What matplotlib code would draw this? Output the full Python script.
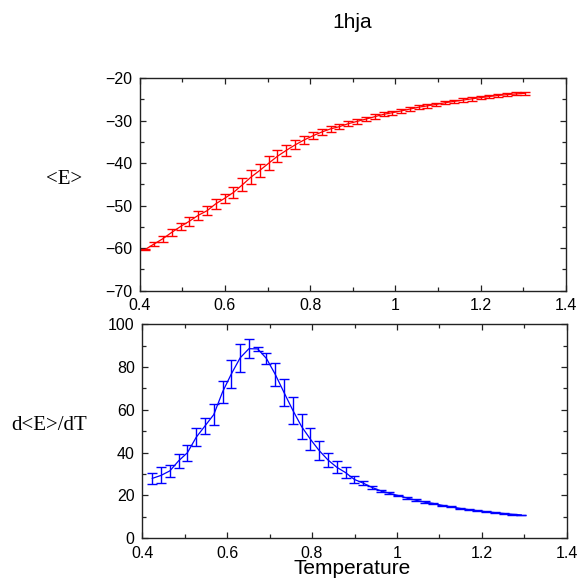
import matplotlib
matplotlib.use("Agg")
import matplotlib.pyplot as plt
from matplotlib.ticker import MultipleLocator, FuncFormatter

# ---- data ----
temps_E = [0.413, 0.434, 0.454, 0.475, 0.496, 0.516, 0.537, 0.558, 0.578, 0.599,
           0.620, 0.641, 0.661, 0.682, 0.703, 0.723, 0.744, 0.765, 0.785, 0.806,
           0.827, 0.848, 0.868, 0.889, 0.910, 0.931, 0.951, 0.972, 0.993, 1.013,
           1.034, 1.055, 1.075, 1.096, 1.117, 1.137, 1.158, 1.179, 1.200, 1.220,
           1.241, 1.262, 1.282, 1.303]
energy = [-60.3, -59.0, -57.8, -56.3, -54.9, -53.7, -52.3, -51.2, -49.6, -48.3,
          -46.9, -45.1, -43.3, -41.7, -40.0, -38.4, -37.0, -35.7, -34.6, -33.6,
          -32.7, -31.95, -31.45, -30.75, -30.2, -29.65, -29.1, -28.55, -28.15, -27.75,
          -27.3, -26.85, -26.55, -26.2, -25.8, -25.5, -25.2, -24.9, -24.6, -24.35,
          -24.1, -23.9, -23.75, -23.6]
energy_err = [0.2, 0.4, 0.7, 0.75, 0.85, 1.0, 1.0, 1.05, 1.15, 1.0,
              1.3, 1.5, 1.57, 1.57, 1.57, 1.4, 1.3, 1.1, 1.0, 0.8,
              0.75, 0.7, 0.65, 0.6, 0.6, 0.55, 0.55, 0.5, 0.5, 0.5,
              0.45, 0.45, 0.45, 0.4, 0.4, 0.4, 0.4, 0.4, 0.35, 0.35,
              0.35, 0.35, 0.35, 0.35]

temps_C = [0.4235, 0.4442, 0.4649, 0.4856, 0.5063, 0.5270, 0.5477, 0.5684, 0.5891, 0.6098,
           0.6305, 0.6512, 0.6719, 0.6926, 0.7133, 0.7340, 0.7547, 0.7754, 0.7961, 0.8168,
           0.8375, 0.8582, 0.8789, 0.8996, 0.9203, 0.9410, 0.9617, 0.9824, 1.0031, 1.0238,
           1.0445, 1.0652, 1.0859, 1.1066, 1.1273, 1.1480, 1.1687, 1.1894, 1.2101, 1.2308,
           1.2515, 1.2722, 1.2929]
heat_cap = [28.0, 29.4, 31.5, 36.2, 40.0, 47.2, 52.5, 57.8, 68.4, 76.8,
            84.3, 88.6, 88.5, 84.0, 76.6, 68.1, 59.8, 52.2, 46.3, 41.0,
            36.6, 33.2, 30.7, 27.5, 25.8, 23.8, 22.2, 21.0, 20.0, 18.8,
            17.8, 16.9, 16.3, 15.4, 14.7, 14.0, 13.4, 12.9, 12.4, 12.0,
            11.6, 11.2, 10.95]
heat_cap_err = [2.6, 3.7, 2.9, 3.3, 3.7, 4.3, 3.7, 4.8, 5.3, 6.6,
                6.4, 4.4, 0.8, 2.5, 5.2, 6.5, 6.4, 5.8, 5.2, 4.3,
                3.4, 2.7, 2.7, 1.5, 1.0, 0.7, 0.55, 0.5, 0.45, 0.4,
                0.35, 0.3, 0.3, 0.28, 0.25, 0.25, 0.22, 0.2, 0.2, 0.2,
                0.18, 0.17, 0.15]

title = "1hja"
xlabel = "Temperature"
ylabel_top = "<E>"
ylabel_bottom = "d<E>/dT"

# ---- figure ----
W, H = 579, 583
fig = plt.figure(figsize=(W / 100, H / 100), dpi=100)

sans = "Liberation Sans"
serif = "Liberation Serif"
spine_color = "#222222"


def style_axes(ax, ylim, ymajor, yminor):
    ax.set_xlim(0.4, 1.4)
    ax.set_ylim(*ylim)
    ax.xaxis.set_major_locator(MultipleLocator(0.2))
    ax.xaxis.set_minor_locator(MultipleLocator(0.1))
    ax.yaxis.set_major_locator(MultipleLocator(ymajor))
    ax.yaxis.set_minor_locator(MultipleLocator(yminor))
    ax.tick_params(which="both", direction="in", top=True, right=True,
                   colors=spine_color, labelcolor="black")
    ax.tick_params(which="major", length=4.5, width=0.9, pad=5.5, labelsize=11.5)
    ax.tick_params(which="minor", length=2.6, width=0.9)
    for sp in ax.spines.values():
        sp.set_color(spine_color)
        sp.set_linewidth(1.0)
    ax.xaxis.set_major_formatter(FuncFormatter(lambda v, p: "%g" % round(v, 1)))


# top panel
ax1 = fig.add_axes([139.7 / W, 1 - 290.7 / H, 426.3 / W, 212.7 / H])
ax1.errorbar(temps_E, energy, yerr=energy_err, color="#ff0000", lw=0.9,
             elinewidth=1.0, capsize=3.7, capthick=1.0)
style_axes(ax1, (-70, -20), 10, 5)
ax1.yaxis.set_major_formatter(FuncFormatter(
    lambda v, p: ("%d" % round(v)).replace("-", "\u2212")))

# bottom panel
ax2 = fig.add_axes([142.3 / W, 1 - 538.3 / H, 424.4 / W, 214.0 / H])
ax2.errorbar(temps_C, heat_cap, yerr=heat_cap_err, color="#0000ff", lw=0.9,
             elinewidth=1.0, capsize=3.9, capthick=1.0)
style_axes(ax2, (0, 100), 20, 10)
ax2.yaxis.set_major_formatter(FuncFormatter(lambda v, p: "%d" % round(v)))

for ax in (ax1, ax2):
    for lab in ax.get_xticklabels() + ax.get_yticklabels():
        lab.set_fontfamily(sans)

fig.text(352 / W, 1 - 23 / H, title, ha="center", va="center",
         fontsize=15, family=sans)
fig.text(352 / W, 1 - 569 / H, xlabel, ha="center", va="center",
         fontsize=15, family=sans)
fig.text(64 / W, 1 - 179 / H, ylabel_top, ha="center", va="center",
         fontsize=15, family=serif)
fig.text(49 / W, 1 - 426 / H, ylabel_bottom, ha="center", va="center",
         fontsize=15, family=serif)

fig.savefig("out.png", dpi=100)
